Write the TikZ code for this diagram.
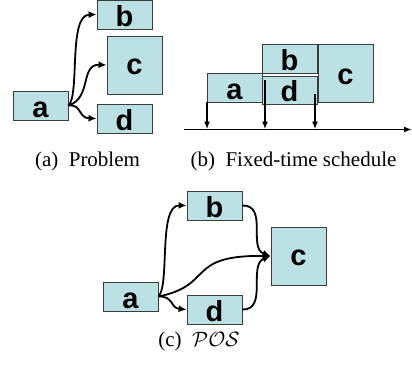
\documentclass[tikz,border=0pt]{standalone}
\usepackage{fontspec}
\setmainfont{Liberation Serif}
\newfontfamily\boxfont{Liberation Sans}
\usetikzlibrary{arrows.meta}
\definecolor{boxfill}{RGB}{187,225,228}
\definecolor{boxline}{RGB}{60,60,60}
\tikzset{
  task/.style={draw=boxline, line width=0.9pt, fill=boxfill, minimum width=55pt, minimum height=29pt,
    inner sep=0pt, font=\boxfont\bfseries\fontsize{29}{29}\selectfont, text height=23pt, text depth=0pt},
  bigtask/.style={task, minimum height=58pt, text height=19pt},
  dep/.style={line width=1.8pt, -{Latex[length=8pt,width=7pt]}},
  tickarrow/.style={line width=1.6pt, -{Latex[length=8pt,width=6pt]}},
  subcap/.style={font=\fontsize{21}{21}\selectfont, inner sep=0pt}
}
\begin{document}
\begin{tikzpicture}[x=1pt,y=-1pt]
\useasboundingbox (0,0) rectangle (412,370);
% (a) Problem
\node[task] (pa) at (40.5,105.5) {a};
\node[task] (pb) at (124.5,14.5) {b};
\node[bigtask] (pc) at (134.5,65) {c};
\node[task] (pd) at (124.5,118.5) {d};
\draw[dep] (pa.east) .. controls (80,95) and (68,15) .. (pb.west);
\draw[dep] (pa.east) .. controls (92,98) and (80,64) .. (pc.west);
\draw[dep] (pa.east) .. controls (82,104) and (78,118) .. (pd.west);
\node[subcap] (capa) at (87.5,161) {(a)\hspace{0.5em}Problem};
% (b) Fixed-time schedule
\node[task] (sa) at (234.5,87.5) {a};
\node[task] (sb) at (289.5,58.5) {b};
\node[task, minimum height=28pt] (sd) at (289.5,90) {d};
\node[bigtask, text height=22pt] (sc) at (345.5,73) {c};
\coordinate (t0) at (184,129.5);
\coordinate (t4) at (412,129.5);
\draw[tickarrow] (t0) -- (t4);
\coordinate (s1) at (207,101.5);
\coordinate (e1) at (207,129.5);
\coordinate (s2) at (265,80);
\coordinate (e2) at (265,129.5);
\coordinate (s3) at (315,94);
\coordinate (e3) at (315,129.5);
\draw[tickarrow] (s1) -- (e1);
\draw[tickarrow] (s2) -- (e2);
\draw[tickarrow] (s3) -- (e3);
\node[subcap] (capb) at (293.5,161) {(b)\hspace{0.5em}Fixed-time schedule};
% (c) POS
\node[task] (qa) at (130.5,296.5) {a};
\node[task] (qb) at (214.5,205.5) {b};
\node[bigtask] (qc) at (298.5,256) {c};
\node[task] (qd) at (214.5,309.5) {d};
\draw[dep] (qa.east) .. controls (170,285) and (158,205) .. (qb.west);
\draw[dep] (qa.east) .. controls (174,296) and (170,308) .. (qd.west);
\draw[dep] (qa.east) .. controls (215,285) and (185,255) .. (qc.west);
\draw[dep] (qb.east) .. controls (268,205) and (248,248) .. (qc.west);
\draw[dep] (qd.east) .. controls (268,310) and (248,265) .. (qc.west);
\node[subcap] (capc) at (199,341) {(c)\hspace{0.5em}$\mathcal{POS}$};
\end{tikzpicture}
\end{document}
